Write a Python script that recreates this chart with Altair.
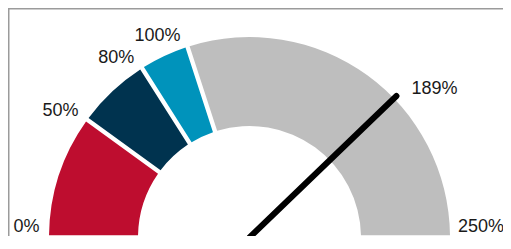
import math
import altair as alt
import pandas as pd

# ---- data ----
band_start = [0, 50, 80, 100]
band_end = [50, 80, 100, 250]
band_names = ["Low", "Mid", "Target", "Above"]
label_values = [0, 50, 80, 100, 189, 250]
label_texts = ["0%", "50%", "80%", "100%", "189%", "250%"]
needle_value = [189]
gauge_max = 250

# ---- styles / layout ----
palette = ["#BE0D2F", "#00334F", "#0093BB", "#BEBEBE"]
W, H = 495, 228
CX, CY = 241.5, 229.5          # gauge centre inside the view (px)
R_OUT, R_IN = 200.5, 111.5
R_NEEDLE = 204
R_LABEL = 204
LABEL_W = 45                   # approx. width of the widest label, keeps it inside
LABEL_MIN_Y = CY - H + 9.5     # keeps the lowest labels inside the view
FRAME_INSET = 0.75             # frame line drawn just inside the view edge

xs = alt.Scale(domain=[-CX, W - CX], range=[0, W], nice=False, zero=False)
ys = alt.Scale(domain=[CY - H, CY], nice=False, zero=False)
ts = alt.Scale(domain=[0, gauge_max], range=[1.5 * math.pi, 2.5 * math.pi])

bands = pd.DataFrame({"start": band_start, "end": band_end, "name": band_names})
labels = pd.DataFrame({"v": label_values, "t": label_texts})
needle = pd.DataFrame({"v": needle_value})

# frame along the left and top edges (bottom-left -> top-left -> top-right)
frame_df = pd.DataFrame({
    "fx": [-CX + FRAME_INSET, -CX + FRAME_INSET, W - CX],
    "fy": [CY - H, CY - FRAME_INSET, CY - FRAME_INSET],
    "ord": [0, 1, 2],
})
frame = alt.Chart(frame_df).mark_line(color="#9b9b9b", strokeWidth=1.5).encode(
    x=alt.X("fx:Q", scale=xs, axis=None),
    y=alt.Y("fy:Q", scale=ys, axis=None),
    order="ord:Q",
)

arcs = alt.Chart(bands).mark_arc(radius=R_OUT, radius2=R_IN, padAngle=0.019).encode(
    theta=alt.Theta("start:Q", scale=ts, stack=None),
    theta2="end:Q",
    color=alt.Color("name:N", scale=alt.Scale(domain=band_names, range=palette), legend=None),
    x=alt.XDatum(0, type="quantitative", scale=xs, axis=None),
    y=alt.YDatum(0, type="quantitative", scale=ys, axis=None),
)

needle_layer = alt.Chart(needle).transform_calculate(
    a=f"datum.v / {gauge_max} * PI",
    x0="0", y0="0",
    x1=f"-{R_NEEDLE} * cos(datum.a)",
    y1=f"{R_NEEDLE} * sin(datum.a)",
).mark_rule(color="black", strokeWidth=6, strokeCap="round").encode(
    x=alt.X("x0:Q", scale=xs, axis=None),
    y=alt.Y("y0:Q", scale=ys, axis=None),
    x2="x1:Q",
    y2="y1:Q",
)

lab_base = alt.Chart(labels).transform_calculate(
    a=f"datum.v / {gauge_max} * PI",
    left=f"datum.v <= {gauge_max / 2}",
    lx=(f"datum.v <= {gauge_max / 2} ? -{R_LABEL} * cos(datum.a) - 6 : "
        f"min(-{R_LABEL} * cos(datum.a) + 15, {W - CX - LABEL_W})"),
    ly=f"max({R_LABEL} * sin(datum.a) + 7, {LABEL_MIN_Y})",
)

lab_left = lab_base.transform_filter("datum.left").mark_text(
    align="right", baseline="middle", font="Liberation Sans", fontSize=18, color="#1a1a1a"
).encode(
    x=alt.X("lx:Q", scale=xs, axis=None),
    y=alt.Y("ly:Q", scale=ys, axis=None),
    text="t:N",
)
lab_right = lab_base.transform_filter("!datum.left").mark_text(
    align="left", baseline="middle", font="Liberation Sans", fontSize=18, color="#1a1a1a"
).encode(
    x=alt.X("lx:Q", scale=xs, axis=None),
    y=alt.Y("ly:Q", scale=ys, axis=None),
    text="t:N",
)

chart = alt.layer(frame, arcs, needle_layer, lab_left, lab_right).properties(
    width=W, height=H, autosize=alt.AutoSizeParams(type="none"), padding=0
).configure_view(strokeWidth=0, stroke="transparent")

chart.save("out.html", embed_options={"renderer": "svg", "actions": False})
